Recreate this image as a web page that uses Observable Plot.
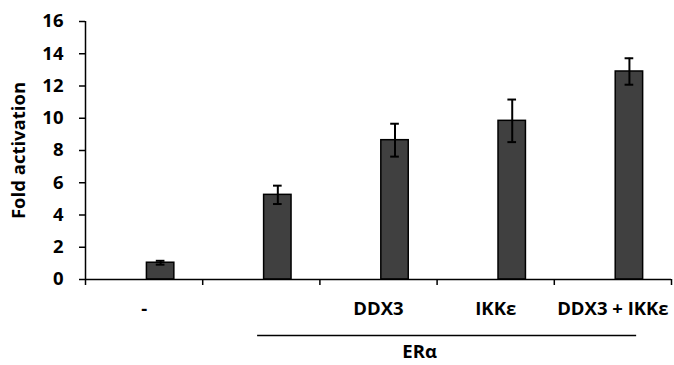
<!DOCTYPE html>
<html>
<head>
<meta charset="utf-8">
<script src="https://cdn.jsdelivr.net/npm/d3@7"></script>
<script src="https://cdn.jsdelivr.net/npm/@observablehq/plot@0.6"></script>
<style>
  html, body { margin: 0; padding: 0; background: #fff; }
  #chart svg { display: block; }
</style>
</head>
<body>
<div id="chart"></div>
<script>
// ---- data ----
const categories = ["-", "", "DDX3", "IKKε", "DDX3 + IKKε"];
const values = [1.04, 5.25, 8.64, 9.84, 12.9];
const errors = [0.12, 0.57, 1.02, 1.32, 0.82];
const yTicks = [0, 2, 4, 6, 8, 10, 12, 14, 16];
const yLabel = "Fold activation";
const groupLabel = "ERα";
const groupFrom = 1; // category index
const groupTo = 4;   // category index

// ---- layout constants (style) ----
const OFF = 0.141;  // bar offset within category band
const HW = 0.117;   // bar half width
const CAP = 0.037;  // error cap half width

const data = categories.map((c, i) => ({ i, c, v: values[i], e: errors[i] }));
const xc = d => d.i + 0.5 + OFF;

const font = "'Open Sans', Lato, sans-serif";
const FS = 18.5;

const chart = Plot.plot({
  width: 674,
  height: 365,
  marginLeft: 85,
  marginRight: 3,
  marginTop: 21,
  marginBottom: 86,
  style: { fontFamily: font, fontWeight: "bold", fontSize: FS + "px", color: "#000", background: "#fff" },
  x: { domain: [0, categories.length], axis: null },
  y: { domain: [0, 16], axis: null },
  marks: [
    Plot.rectY(data, {
      x1: d => xc(d) - HW, x2: d => xc(d) + HW, y: "v",
      fill: "#404040", stroke: "#000", strokeWidth: 1.5
    }),
    Plot.ruleX(data, { x: xc, y1: d => d.v - d.e, y2: d => d.v + d.e, stroke: "#000", strokeWidth: 2 }),
    Plot.ruleY(data, { y: d => d.v + d.e, x1: d => xc(d) - CAP, x2: d => xc(d) + CAP, stroke: "#000", strokeWidth: 2 }),
    Plot.ruleY(data, { y: d => d.v - d.e, x1: d => xc(d) - CAP, x2: d => xc(d) + CAP, stroke: "#000", strokeWidth: 2 }),
    Plot.ruleY([0], { stroke: "#000", strokeWidth: 1.5 }),
    Plot.ruleX([0], { stroke: "#000", strokeWidth: 1.5 }),
    Plot.axisY({
      ticks: yTicks, tickSize: 6, tickPadding: 16, strokeWidth: 1.5,
      fontSize: FS, fontWeight: "bold",
      label: yLabel, labelAnchor: "center", labelArrow: "none", labelOffset: 74
    }),
    Plot.axisX({
      ticks: d3.range(0, categories.length + 1), tickFormat: () => "",
      tickSize: 6, strokeWidth: 1.5
    }),
    Plot.axisX({
      ticks: d3.range(0, categories.length).map(i => i + 0.5),
      tickFormat: t => categories[Math.floor(t)],
      tickSize: 0, tickPadding: 22, fontSize: FS, fontWeight: "bold"
    }),
    Plot.ruleY([0], {
      x1: () => groupFrom + 0.5 + OFF - HW, x2: () => groupTo + 0.5 + OFF + HW,
      dx: -6.5, dy: 56, stroke: "#000", strokeWidth: 1.5
    }),
    Plot.text([groupLabel], {
      x: () => ((groupFrom + groupTo) / 2 + 0.5 + OFF), y: () => 0,
      text: d => d, dx: -34, dy: 73, fontSize: FS, fontWeight: "bold", fill: "#000"
    })
  ]
});
document.getElementById("chart").appendChild(chart);
</script>
</body>
</html>
